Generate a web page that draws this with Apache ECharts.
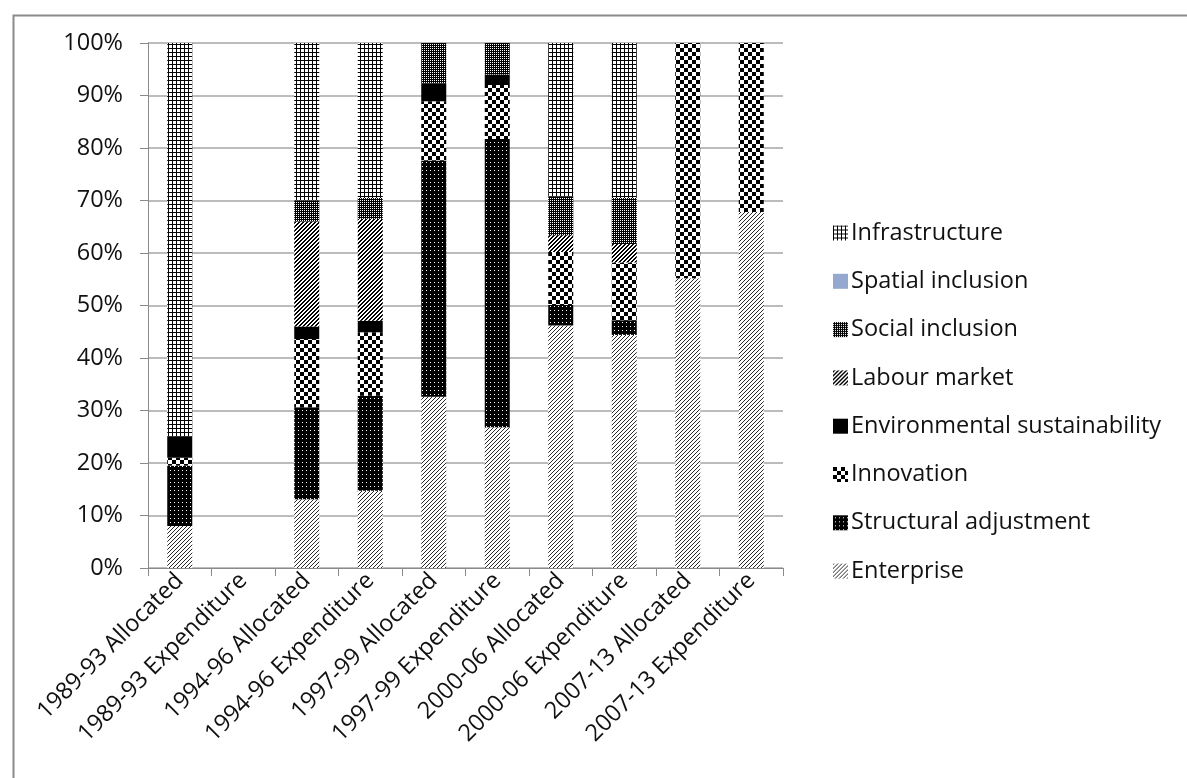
<!DOCTYPE html>
<html><head><meta charset="utf-8">
<script src="https://cdn.jsdelivr.net/npm/echarts@6/dist/echarts.min.js"></script>
<style>html,body{margin:0;padding:0;background:#fff}#c{width:1187px;height:778px}</style>
</head><body><div id="c"></div>
<script>
const categories = ['1989-93 Allocated','1989-93 Expenditure','1994-96 Allocated','1994-96 Expenditure','1997-99 Allocated','1997-99 Expenditure','2000-06 Allocated','2000-06 Expenditure','2007-13 Allocated','2007-13 Expenditure'];
const enterprise     = [8,   null, 13.1, 14.7, 32.6, 26.8, 46.2, 44.4, 55.2, 67.8];
const structural     = [11.5,null, 17.5, 18.1, 45.0, 54.9, 3.9,  2.8,  0,    0];
const innovation     = [1.5, null, 13.0, 12.1, 11.3, 10.3, 10.1, 11.0, 44.8, 32.2];
const environmental  = [4,   null, 2.4,  2.2,  3.4,  2.0,  0,    0,    0,    0];
const labour         = [0,   null, 20.0, 19.4, 0,    0,    3.2,  3.5,  0,    0];
const social         = [0,   null, 4.0,  4.0,  7.7,  6.0,  7.3,  8.8,  0,    0];
const spatial        = [0,   null, 0,    0,    0,    0,    0,    0,    0,    0];
const infrastructure = [75,  null, 30,   29.5, 0,    0,    29.3, 29.5, 0,    0];
const yTicks = [0,10,20,30,40,50,60,70,80,90,100];

function tile(w,h,fn){
  const c=document.createElement('canvas'); c.width=w; c.height=h;
  const g=c.getContext('2d'); g.fillStyle='#fff'; g.fillRect(0,0,w,h);
  for(let y=0;y<h;y++)for(let x=0;x<w;x++){const col=fn(x,y); if(col){g.fillStyle=col; g.fillRect(x,y,1,1);}}
  return {image:c, repeat:'repeat'};
}
const pat = {
  enterprise: tile(4,4,(x,y)=>((x+y)%4===0)?'#2a2a2a':null),
  structural: tile(4,4,(x,y)=>(x===2&&y===2)?null:'#000'),
  innovation: tile(8,8,(x,y)=>((Math.floor(x/4)+Math.floor(y/4))%2===0)?'#000':null),
  environmental: '#000',
  labour: tile(4,4,(x,y)=>((x+y)%4<2)?'#000':null),
  social: tile(2,2,(x,y)=>(x===0&&y===0)?'#fff':'#000'),
  spatial: '#94A8D0',
  infrastructure: tile(4,4,(x,y)=>(x===0||y===0)?'#000':null)
};

const seriesDefs = [
  ['Enterprise', enterprise, pat.enterprise],
  ['Structural adjustment', structural, pat.structural],
  ['Innovation', innovation, pat.innovation],
  ['Environmental sustainability', environmental, pat.environmental],
  ['Labour market', labour, pat.labour],
  ['Social inclusion', social, pat.social],
  ['Spatial inclusion', spatial, pat.spatial],
  ['Infrastructure', infrastructure, pat.infrastructure]
];
const FONT = 'Open Sans';
const FS = 23.5;
const chart = echarts.init(document.getElementById('c'), null, {renderer:'canvas'});
chart.setOption({
  animation:false,
  backgroundColor:'#fff',
  graphic:[{type:'rect', left:11, top:13, shape:{width:1300,height:900}, style:{fill:'none', stroke:'#8a8a8a', lineWidth:2}, silent:true}],
  grid:{left:148, top:43, width:635, height:525},
  legend:{
    orient:'vertical', left:828, top:216, itemWidth:15, itemHeight:15, itemGap:24.3,
    data: seriesDefs.map(d=>d[0]).reverse(),
    textStyle:{fontFamily:FONT, fontSize:FS, color:'#111', padding:[0,0,0,-2]},
    icon:'rect'
  },
  xAxis:{
    type:'category', data:categories,
    axisLine:{lineStyle:{color:'#8a8a8a', width:1}},
    axisTick:{show:true, length:8, lineStyle:{color:'#8a8a8a'}},
    axisLabel:{rotate:45, fontFamily:FONT, fontSize:FS, color:'#111', margin:9, interval:0}
  },
  yAxis:{
    type:'value', min:0, max:100, interval:10,
    axisLine:{show:true, lineStyle:{color:'#8a8a8a', width:1}},
    axisTick:{show:true, length:8, lineStyle:{color:'#8a8a8a'}},
    splitLine:{lineStyle:{color:'#a6a6a6', width:1.5}},
    axisLabel:{formatter:v=>yTicks.includes(v)?v+'%':'', fontFamily:FONT, fontSize:FS, color:'#111', margin:25}
  },
  series: seriesDefs.map(d=>({
    name:d[0], type:'bar', stack:'all', data:d[1], barWidth:25,
    itemStyle:{color:d[2]}
  }))
});
</script></body></html>
